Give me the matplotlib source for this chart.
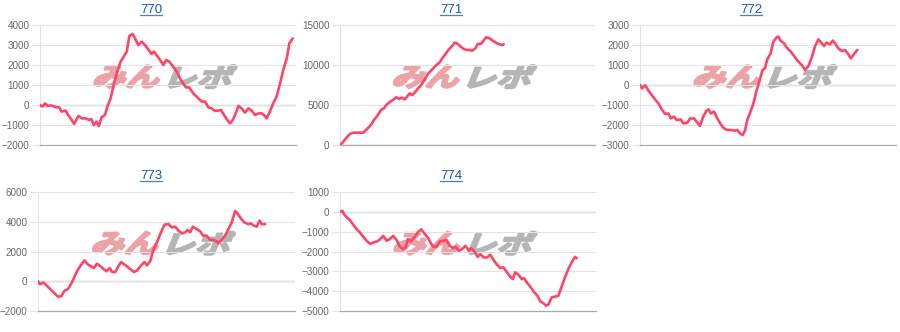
import matplotlib
matplotlib.use("Agg")
from matplotlib import pyplot as plt
from matplotlib.font_manager import FontProperties
from matplotlib.textpath import TextPath
from matplotlib.patches import PathPatch
from matplotlib.lines import Line2D
import matplotlib.transforms as mtransforms
import numpy as np

plt.rcParams["font.family"] = ["Liberation Sans", "DejaVu Sans"]

# ---- data (x = play position 0..100, y = cumulative diff) ----
machines = ["770", "771", "772", "773", "774"]

x_770 = [0, 1, 2, 3, 4, 5, 6.5, 7.5, 8.5, 10, 11, 12.4, 13.3, 15, 16.3, 18, 19, 20, 21, 22, 23, 24,
         25.4, 26.3, 27.6, 28.9, 30.2, 31.5, 33.9, 34.9, 36.2, 37.1, 38.4, 39.7, 41, 42.3, 43.6, 44.5,
         45.8, 46.9, 48.2, 49.2, 50.5, 52, 53.4, 54.7, 55.7, 57, 58.3, 59.9, 61.5, 63.2, 64.5, 65.8,
         67, 68.4, 69.7, 70.7, 71.9, 72.9, 74.2, 75.3, 76.2, 77.5, 78.8, 80.1, 81.4, 82.7, 84, 85.3,
         86.6, 87.9, 88.5, 89.8, 91.1, 92.4, 93.8, 95, 96.4, 97.4, 98.7]
y_770 = [0, -80, 80, -50, -20, -50, -120, -120, -330, -280, -500, -750, -950, -550, -670, -670, -750,
         -700, -1000, -830, -1050, -620, -500, -80, 330, 1080, 1670, 2170, 2670, 3450, 3550, 3330, 3000,
         3170, 3000, 2780, 2550, 2670, 2450, 2250, 2000, 2250, 2170, 1920, 1670, 1330, 1120, 880, 880,
         580, 380, 170, 170, -120, -170, -300, -280, -250, -500, -700, -920, -750, -500, -50, -170, -380,
         -170, -280, -500, -420, -420, -550, -670, -330, 80, 420, 1080, 1750, 2330, 3080, 3330]

x_771 = [0, 1, 2.3, 3.9, 5.2, 7.2, 9.1, 10.2, 11.5, 12.4, 13.3, 14.6, 16.1, 17.2, 18.5, 19.8, 21.1,
         22.1, 23.2, 24.1, 25.4, 26.3, 27.3, 28.4, 29.3, 30.6, 31.9, 33.2, 34.5, 36.2, 37.8, 39.1, 40.1,
         41.4, 42.7, 44, 44.9, 45.8, 46.9, 48.2, 49.5, 50.8, 51.8, 53.1, 54, 55.3, 56, 57.3, 58.6, 59.9,
         61.2, 62.5, 63.8, 64.2]
y_771 = [0, 290, 830, 1380, 1540, 1540, 1540, 1880, 2290, 2630, 3130, 3630, 4380, 4580, 5130, 5420,
         5710, 5960, 5750, 5920, 5710, 6040, 6460, 6250, 6540, 7080, 7500, 8210, 8880, 9460, 10000,
         10330, 10830, 11380, 11960, 12380, 12790, 12710, 12420, 12080, 11880, 11880, 11790, 12080,
         12630, 12630, 12920, 13460, 13330, 13040, 12790, 12580, 12500, 12580]

x_772 = [0, 0.8, 1.7, 2.1, 3.3, 4.6, 5.9, 7.2, 8.5, 9.8, 11.1, 12, 13.3, 14.3, 15.9, 16.9, 18.5, 19.5,
         21.1, 22.1, 23.4, 24.7, 26, 26.8, 27.6, 28.9, 30.2, 31.5, 32.8, 34.1, 35.8, 37.1, 38, 39.1,
         40.1, 41, 41.9, 43.2, 44.3, 45.6, 46.6, 47.9, 48.8, 49.7, 51, 52.1, 53.4, 54, 54.9, 56.3, 57.3,
         58.9, 60.2, 61.5, 63.2, 64.5, 65.8, 67.1, 68.4, 69.7, 71, 71.9, 72.9, 74.2, 75.3, 76.2, 77.5,
         78.8, 80.1, 81.4, 82.3, 83.6, 84.9]
y_772 = [0, -170, -50, -20, -280, -500, -720, -920, -1220, -1450, -1420, -1670, -1580, -1750, -1720,
         -1920, -1880, -1680, -1670, -1830, -2050, -1580, -1280, -1220, -1420, -1330, -1670, -1950,
         -2170, -2250, -2250, -2280, -2250, -2420, -2500, -2280, -1750, -1330, -920, -250, 170, 750, 830,
         1280, 1580, 2170, 2380, 2420, 2220, 2080, 1870, 1670, 1450, 1220, 1000, 750, 950, 1380, 1950,
         2280, 2080, 1950, 2120, 2030, 2220, 2080, 1830, 1700, 1750, 1530, 1330, 1550, 1750]

x_773 = [0, 0.8, 2.1, 2.6, 3.9, 5.2, 6.5, 7.8, 9.1, 10.3, 11.4, 12.4, 13.7, 15, 16.6, 18.1, 19.4,
         20.7, 21.7, 23, 24.3, 25.4, 26.6, 27.9, 28.8, 30.1, 31.1, 32.3, 33.6, 34.9, 36.2, 37.3, 38.6,
         39.8, 41.4, 42.4, 43.7, 44.8, 46.3, 47.6, 49.2, 50.8, 52.1, 53.4, 54.7, 56, 57.3, 58.2, 59.2,
         60.3, 61.8, 63.1, 64.2, 65.5, 67, 68.3, 69.3, 70.2, 71.5, 72.8, 74.1, 75.4, 76.7, 77.6, 78.9,
         80.2, 81.9, 82.8, 84.1, 85.1, 86.2, 87.1, 88.4]
y_773 = [0, -200, -90, -150, -380, -600, -820, -1040, -1000, -640, -560, -330, 110, 620, 1070, 1400,
         1130, 1000, 890, 1180, 1000, 840, 670, 890, 620, 620, 960, 1290, 1130, 960, 780, 620, 730, 1000,
         1290, 1070, 1360, 2070, 2620, 3180, 3800, 3840, 3620, 3670, 3400, 3220, 3290, 3440, 3290, 3670,
         3510, 3360, 3070, 3070, 2780, 2780, 2690, 2560, 2780, 3070, 3510, 3960, 4730, 4560, 4240, 3960,
         3840, 3890, 3730, 3670, 4070, 3840, 3840]

x_774 = [0, 0.9, 1.6, 2.6, 3.9, 5.2, 6.5, 7.8, 9.1, 10.4, 11.9, 13.2, 14.5, 15.8, 16.9, 18.2, 19.5,
         20.8, 22.1, 23.4, 24.7, 25.7, 26.5, 27.8, 29.1, 30.4, 31.7, 33, 34.3, 35.3, 36.4, 37.7, 39,
         40.3, 41.6, 42.9, 44.2, 45.1, 46.4, 47.7, 49, 50.3, 51.2, 52.5, 53.8, 54.8, 56.1, 57.4, 58.7,
         60, 61.3, 62.6, 63.9, 65.2, 66.5, 67.5, 68.4, 69.7, 71, 71.9, 73, 74.3, 75.6, 77.1, 78.2, 79.5,
         80.5, 81.4, 82.7, 84, 85.3, 86.6, 87.9, 89.2, 90.5, 91.8, 92.5]
y_774 = [0, 50, -120, -280, -420, -650, -880, -1040, -1260, -1460, -1620, -1540, -1490, -1370, -1210,
         -1460, -1370, -1210, -1420, -1760, -1880, -1790, -1370, -1490, -1290, -1040, -880, -1090, -1290,
         -1540, -1760, -1760, -1490, -1460, -1420, -1710, -1830, -1760, -1960, -1880, -1710, -1960, -1830,
         -2000, -2270, -2130, -2300, -2300, -2160, -2430, -2660, -2830, -2800, -3050, -3270, -3390, -3050,
         -3170, -3390, -3340, -3560, -3770, -4010, -4230, -4510, -4610, -4730, -4680, -4310, -4280, -4230,
         -3770, -3300, -2880, -2550, -2270, -2340]

series_x = [x_770, x_771, x_772, x_773, x_774]
series_y = [y_770, y_771, y_772, y_773, y_774]
y_ranges = [(-2000, 4000, 1000), (0, 15000, 5000), (-3000, 3000, 1000),
            (-2000, 6000, 2000), (-5000, 1000, 1000)]

LINE_COLOR = "#ff4466"
GRID_COLOR = "#e3e3e3"
AXIS_COLOR = "#aaaaaa"
W, H = 900, 332

# axes boxes in pixels: left, right, top, bottom
boxes = [(40, 296, 25, 145), (340, 595, 25, 145), (640, 896, 25, 145),
         (38, 295, 192, 311), (340, 596, 192, 311)]
title_pos = [(151, 10), (451, 10), (751, 10), (151, 176), (451, 176)]

fig = plt.figure(figsize=(W / 100, H / 100), dpi=100)
fp_logo = FontProperties(family="Noto Sans CJK JP", weight="bold")


def draw_logo(ax):
    cx, cy = ax.transAxes.transform((0.49, 0.57))
    parts = [("みん", "#eba3a7", -71, -6), ("レポ", "#b5b5b5", 3, 71)]
    for txt, col, left, right in parts:
        p = TextPath((0, 0), txt, size=1, prop=fp_logo)
        p = p.transformed(mtransforms.Affine2D().skew_deg(16, 0))
        ext = p.get_extents()
        tr = (mtransforms.Affine2D().translate(-ext.x0, -ext.y0)
              .scale((right - left) / ext.width, 23 / ext.height)
              .translate(cx + left, cy - 11.5))
        patch = PathPatch(p.transformed(tr), transform=mtransforms.IdentityTransform(),
                          fc=col, ec=col, lw=1.6, joinstyle="round", zorder=1)
        ax.add_artist(patch)


titles = []
for i, name in enumerate(machines):
    l, r, t, b = boxes[i]
    ax = fig.add_axes([l / W, 1 - b / H, (r - l) / W, (b - t) / H])
    lo, hi, step = y_ranges[i]
    ax.set_ylim(lo, hi)
    ax.set_xlim(0, 100)
    yt = np.arange(lo, hi + 1, step)
    ax.set_yticks(yt)
    ax.set_xticks([])
    ax.grid(axis="y", color=GRID_COLOR, lw=0.75, zorder=0)
    ax.axhline(0, color=AXIS_COLOR, lw=0.9, zorder=1.5)
    for s in ["top", "right"]:
        ax.spines[s].set_visible(False)
    ax.spines["left"].set_color(GRID_COLOR)
    ax.spines["left"].set_linewidth(0.75)
    ax.spines["bottom"].set_color(AXIS_COLOR)
    ax.spines["bottom"].set_linewidth(0.9)
    ax.tick_params(axis="y", length=5.5, width=0.75, color=GRID_COLOR, pad=2,
                   labelsize=7.1, labelcolor="#666666")
    for k, tk in enumerate(ax.yaxis.get_major_ticks()):
        if yt[k] == 0 or k == 0:
            tk.tick1line.set_color(AXIS_COLOR)
    draw_logo(ax)
    ax.plot(series_x[i], series_y[i], color=LINE_COLOR, lw=1.9, zorder=3,
            solid_joinstyle="round", solid_capstyle="round")

    tx, ty = title_pos[i]
    titles.append(fig.text(tx / W, 1 - ty / H, name, ha="center", va="center",
                           fontsize=9.5, color="#1a56c4"))

# underline the titles like links
fig.canvas.draw()
renderer = fig.canvas.get_renderer()
for t in titles:
    bb = t.get_window_extent(renderer)
    yline = (bb.y0 + 1) / H
    fig.add_artist(Line2D([bb.x0 / W, bb.x1 / W], [yline, yline], color="#4a7fd6", lw=0.9))

fig.savefig("out.png", dpi=100)
